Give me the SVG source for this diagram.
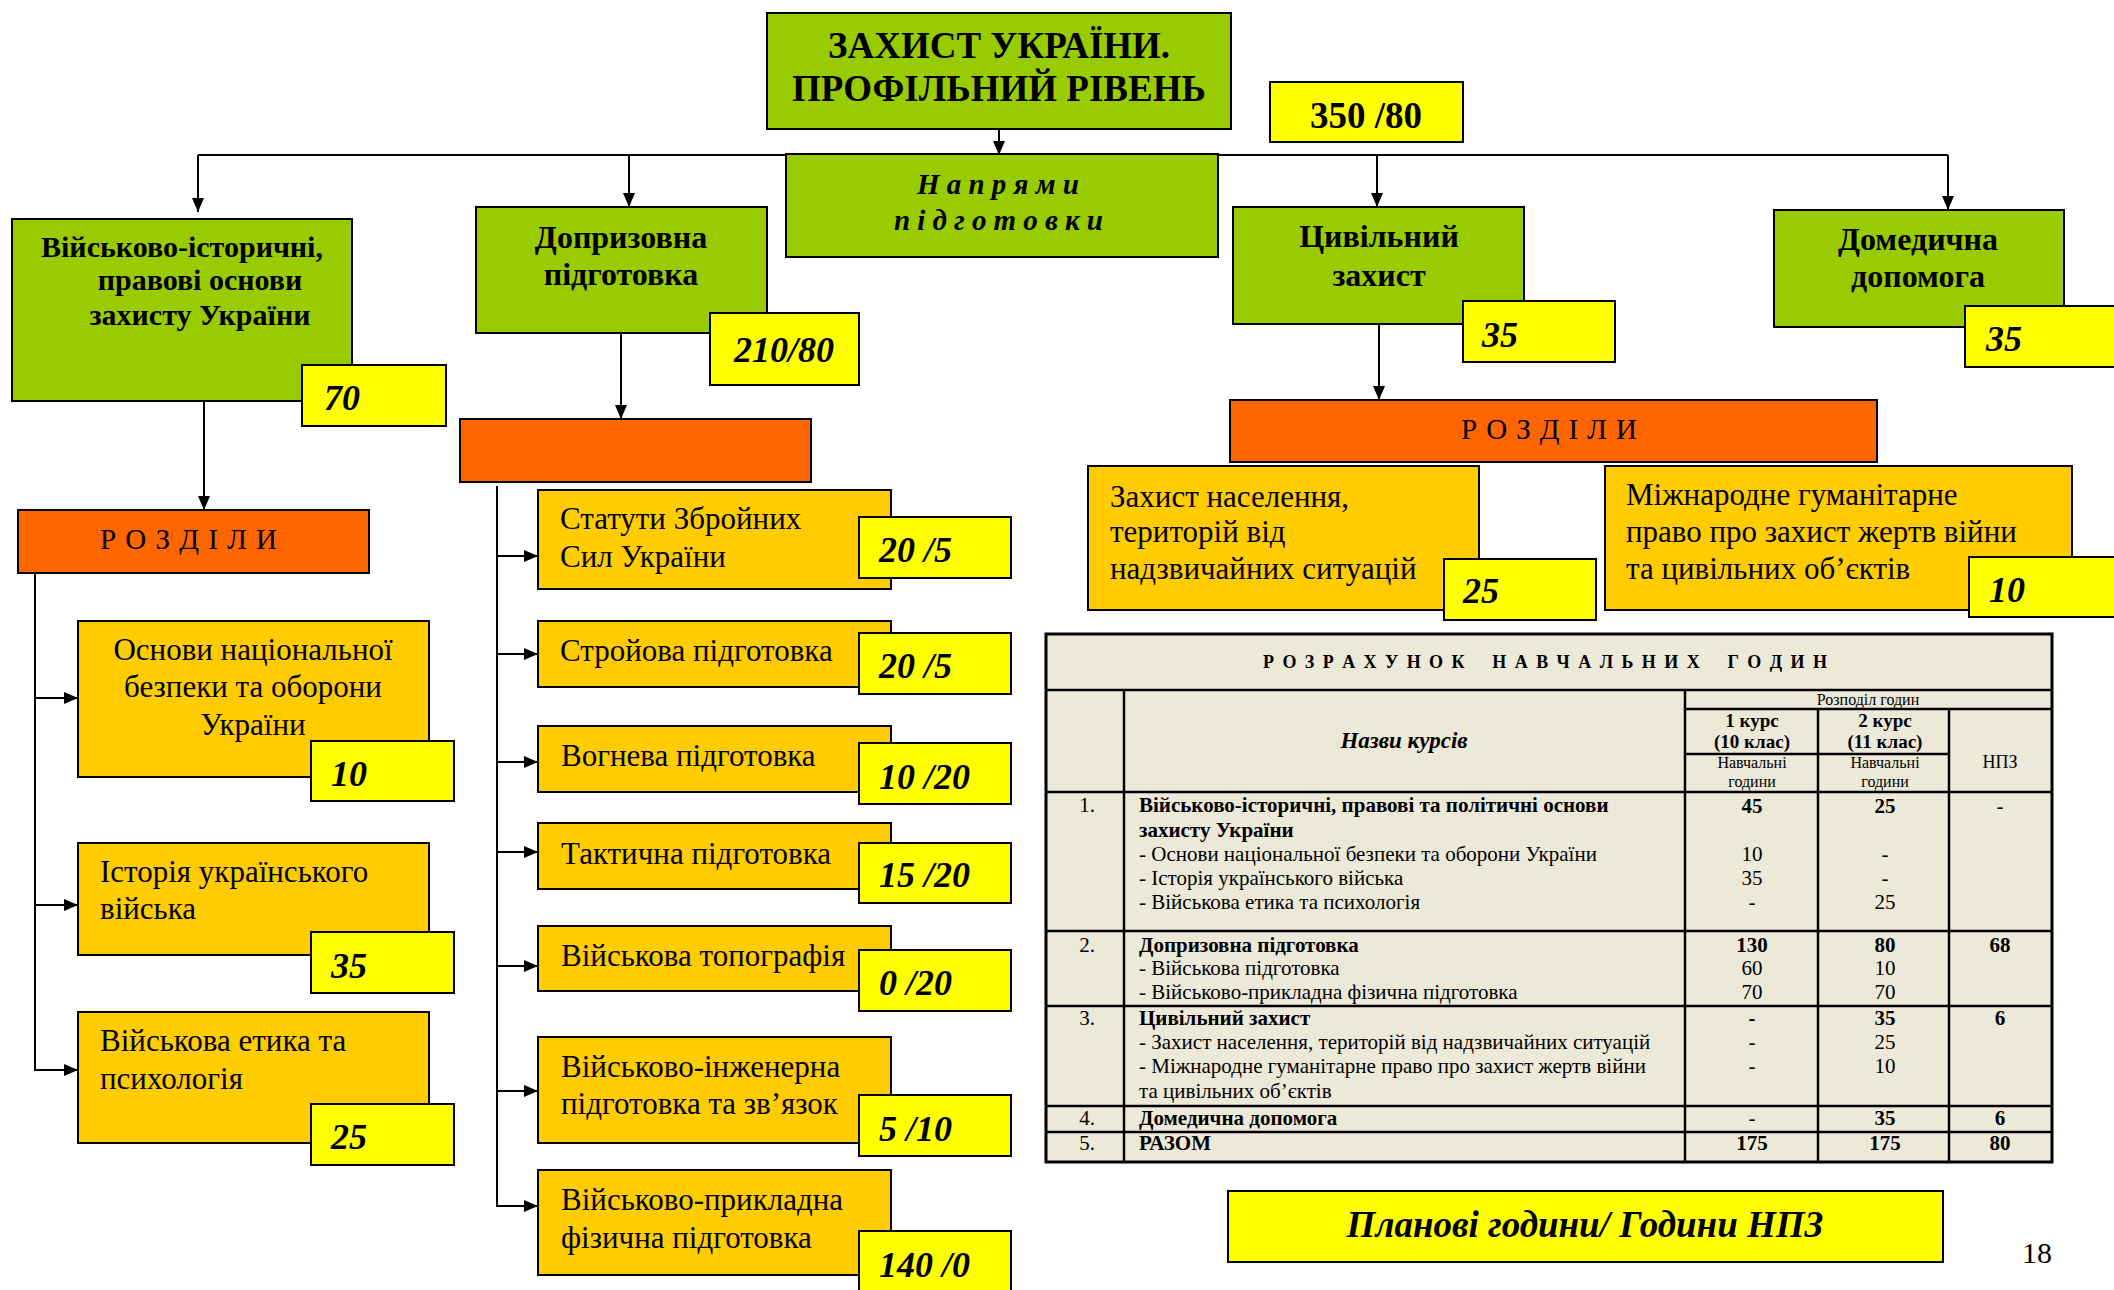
<svg xmlns="http://www.w3.org/2000/svg" width="2114" height="1290" viewBox="0 0 2114 1290">
<style>
text{font-family:"Liberation Serif","Times New Roman",serif;fill:#000}
.g{fill:#99CC00;stroke:#000;stroke-width:2}
.y{fill:#FFFF00;stroke:#000;stroke-width:2}
.o{fill:#FFCC00;stroke:#000;stroke-width:2}
.r{fill:#FF6600;stroke:#000;stroke-width:2}
.c{stroke:#000;stroke-width:2;fill:none}
.ca{stroke:#000;stroke-width:2;fill:none;marker-end:url(#ah)}
.hb{font-weight:bold;font-size:32px;text-anchor:middle}
.hs{font-size:30px}
.num{font-weight:bold;font-style:italic;font-size:36px}
.bx{font-size:31px}
.tl{stroke:#000;stroke-width:2.5;fill:none}
.tt{font-size:21px}
.tb{font-size:21px;font-weight:bold}
.tc{text-anchor:middle}
</style>
<defs>
<marker id="ah" markerUnits="userSpaceOnUse" markerWidth="14" markerHeight="12" refX="14" refY="6" orient="auto">
<path d="M0,0 L14,6 L0,12 z" fill="#000"/>
</marker>
</defs>

<g id="connectors">
<line class="c" x1="198" y1="155" x2="1948" y2="155"/>
<line class="ca" x1="999" y1="129" x2="999" y2="155"/>
<line class="ca" x1="198" y1="155" x2="198" y2="212"/>
<line class="ca" x1="629" y1="155" x2="629" y2="207"/>
<line class="ca" x1="1377" y1="155" x2="1377" y2="207"/>
<line class="ca" x1="1948" y1="155" x2="1948" y2="210"/>
<line class="ca" x1="204" y1="401" x2="204" y2="510"/>
<line class="ca" x1="621" y1="333" x2="621" y2="419"/>
<line class="ca" x1="1379" y1="324" x2="1379" y2="400"/>
<line class="c" x1="35" y1="573" x2="35" y2="1070"/>
<line class="ca" x1="35" y1="698" x2="78" y2="698"/>
<line class="ca" x1="35" y1="905" x2="78" y2="905"/>
<line class="ca" x1="34" y1="1070" x2="78" y2="1070"/>
<line class="c" x1="497" y1="486" x2="497" y2="1207"/>
<line class="ca" x1="497" y1="556" x2="538" y2="556"/>
<line class="ca" x1="497" y1="654" x2="538" y2="654"/>
<line class="ca" x1="497" y1="762" x2="538" y2="762"/>
<line class="ca" x1="497" y1="852" x2="538" y2="852"/>
<line class="ca" x1="497" y1="966" x2="538" y2="966"/>
<line class="ca" x1="497" y1="1091" x2="538" y2="1091"/>
<line class="ca" x1="496" y1="1206" x2="538" y2="1206"/>
</g>

<g id="title">
<rect class="g" x="767" y="13" width="464" height="116"/>
<text x="999" y="58" text-anchor="middle" font-size="37" font-weight="bold">ЗАХИСТ УКРАЇНИ.</text>
<text x="999" y="101" text-anchor="middle" font-size="37" font-weight="bold">ПРОФІЛЬНИЙ РІВЕНЬ</text>
</g>

<g id="total">
<rect class="y" x="1270" y="82" width="193" height="60"/>
<text x="1366" y="128" text-anchor="middle" font-size="37" font-weight="bold">350 /80</text>
</g>

<g id="napriamy">
<rect class="g" x="786" y="154" width="432" height="103"/>
<text x="917" y="194" font-size="29" font-weight="bold" font-style="italic" textLength="162" lengthAdjust="spacing">Н а п р я м и</text>
<text x="894" y="230" font-size="29" font-weight="bold" font-style="italic" textLength="209" lengthAdjust="spacing">п і д г о т о в к и</text>
</g>

<g id="viiskovo-istorychni">
<rect class="g" x="12" y="219" width="340" height="182"/>
<text class="hb hs" x="182" y="257">Військово-історичні,</text>
<text class="hb hs" x="200" y="290">правові основи</text>
<text class="hb hs" x="200" y="325">захисту України</text>
<rect class="y" x="302" y="365" width="144" height="61"/>
<text class="num" x="324" y="410">70</text>
</g>

<g id="dopryzovna">
<rect class="g" x="476" y="207" width="291" height="126"/>
<text class="hb" x="621" y="248">Допризовна</text>
<text class="hb" x="621" y="285">підготовка</text>
<rect class="y" x="710" y="313" width="149" height="72"/>
<text class="num" x="734" y="362">210/80</text>
</g>

<g id="tsyvilnyi">
<rect class="g" x="1233" y="207" width="291" height="117"/>
<text class="hb" x="1379" y="247">Цивільний</text>
<text class="hb" x="1379" y="286">захист</text>
<rect class="y" x="1463" y="301" width="152" height="61"/>
<text class="num" x="1482" y="347">35</text>
</g>

<g id="domedychna">
<rect class="g" x="1774" y="210" width="290" height="117"/>
<text class="hb" x="1918" y="250">Домедична</text>
<text class="hb" x="1918" y="287">допомога</text>
<rect class="y" x="1965" y="306" width="160" height="61"/>
<text class="num" x="1986" y="351">35</text>
</g>

<g id="rozdily-mid">
<rect class="r" x="460" y="419" width="351" height="63"/>
</g>

<g id="rozdily-left">
<rect class="r" x="18" y="510" width="351" height="63"/>
<text x="100" y="549" font-size="29" textLength="177" lengthAdjust="spacing">Р О З Д І Л И</text>
</g>

<g id="rozdily-right">
<rect class="r" x="1230" y="400" width="647" height="62"/>
<text x="1461" y="439" font-size="29" textLength="176" lengthAdjust="spacing">Р О З Д І Л И</text>
</g>

<g id="osnovy">
<rect class="o" x="78" y="621" width="351" height="156"/>
<text class="bx" x="253" y="660" text-anchor="middle">Основи національної</text>
<text class="bx" x="253" y="697" text-anchor="middle">безпеки та оборони</text>
<text class="bx" x="253" y="735" text-anchor="middle">України</text>
<rect class="y" x="311" y="741" width="143" height="60"/>
<text class="num" x="331" y="786">10</text>
</g>

<g id="istoriia">
<rect class="o" x="78" y="843" width="351" height="112"/>
<text class="bx" x="100" y="882">Історія українського</text>
<text class="bx" x="100" y="919">війська</text>
<rect class="y" x="311" y="932" width="143" height="61"/>
<text class="num" x="331" y="978">35</text>
</g>

<g id="etyka">
<rect class="o" x="78" y="1012" width="351" height="131"/>
<text class="bx" x="100" y="1051">Військова етика та</text>
<text class="bx" x="100" y="1089">психологія</text>
<rect class="y" x="311" y="1104" width="143" height="61"/>
<text class="num" x="331" y="1149">25</text>
</g>

<g id="statuty">
<rect class="o" x="538" y="490" width="353" height="99"/>
<text class="bx" x="560" y="529">Статути Збройних</text>
<text class="bx" x="560" y="567">Сил України</text>
<rect class="y" x="859" y="517" width="152" height="61"/>
<text class="num" x="879" y="562">20 /5</text>
</g>

<g id="stroiova">
<rect class="o" x="538" y="621" width="353" height="66"/>
<text class="bx" x="560" y="661">Стройова підготовка</text>
<rect class="y" x="859" y="633" width="152" height="61"/>
<text class="num" x="879" y="678">20 /5</text>
</g>

<g id="vohneva">
<rect class="o" x="538" y="726" width="353" height="66"/>
<text class="bx" x="561" y="766">Вогнева підготовка</text>
<rect class="y" x="859" y="743" width="152" height="61"/>
<text class="num" x="879" y="789">10 /20</text>
</g>

<g id="taktychna">
<rect class="o" x="538" y="823" width="353" height="66"/>
<text class="bx" x="561" y="864">Тактична підготовка</text>
<rect class="y" x="859" y="843" width="152" height="60"/>
<text class="num" x="879" y="887">15 /20</text>
</g>

<g id="topohrafiia">
<rect class="o" x="538" y="926" width="353" height="65"/>
<text class="bx" x="561" y="966">Військова топографія</text>
<rect class="y" x="859" y="950" width="152" height="61"/>
<text class="num" x="879" y="995">0 /20</text>
</g>

<g id="inzhenerna">
<rect class="o" x="538" y="1037" width="353" height="106"/>
<text class="bx" x="561" y="1077">Військово-інженерна</text>
<text class="bx" x="561" y="1114">підготовка та зв’язок</text>
<rect class="y" x="859" y="1095" width="152" height="61"/>
<text class="num" x="879" y="1141">5 /10</text>
</g>

<g id="prykladna">
<rect class="o" x="538" y="1170" width="353" height="105"/>
<text class="bx" x="561" y="1210">Військово-прикладна</text>
<text class="bx" x="561" y="1248">фізична підготовка</text>
<rect class="y" x="859" y="1231" width="152" height="64"/>
<text class="num" x="879" y="1277">140 /0</text>
</g>

<g id="zakhyst-naselennia">
<rect class="o" x="1088" y="466" width="391" height="144"/>
<text class="bx" x="1110" y="507">Захист населення,</text>
<text class="bx" x="1110" y="542">територій від</text>
<text class="bx" x="1110" y="579">надзвичайних ситуацій</text>
<rect class="y" x="1444" y="559" width="152" height="61"/>
<text class="num" x="1463" y="603">25</text>
</g>

<g id="mizhnarodne">
<rect class="o" x="1605" y="466" width="467" height="144"/>
<text class="bx" x="1626" y="505">Міжнародне гуманітарне</text>
<text class="bx" x="1626" y="542">право про захист жертв війни</text>
<text class="bx" x="1626" y="579">та цивільних об’єктів</text>
<rect class="y" x="1969" y="557" width="155" height="60"/>
<text class="num" x="1989" y="602">10</text>
</g>

<g id="table">
<rect x="1046" y="634" width="1006" height="528" fill="#ECE9D8" stroke="#000" stroke-width="3"/>
<line class="tl" x1="1046" y1="690" x2="2052" y2="690"/>
<line class="tl" x1="1124" y1="690" x2="1124" y2="1162"/>
<line class="tl" x1="1685" y1="690" x2="1685" y2="1162"/>
<line class="tl" x1="1685" y1="709" x2="2052" y2="709"/>
<line class="tl" x1="1818" y1="709" x2="1818" y2="1162"/>
<line class="tl" x1="1949" y1="709" x2="1949" y2="1162"/>
<line class="tl" x1="1685" y1="754" x2="1949" y2="754"/>
<line class="tl" x1="1046" y1="792" x2="2052" y2="792"/>
<line class="tl" x1="1046" y1="931" x2="2052" y2="931"/>
<line class="tl" x1="1046" y1="1006" x2="2052" y2="1006"/>
<line class="tl" x1="1046" y1="1106" x2="2052" y2="1106"/>
<line class="tl" x1="1046" y1="1132" x2="2052" y2="1132"/>

<text x="1263" y="668" font-size="18" font-weight="bold" textLength="564" lengthAdjust="spacing" xml:space="preserve">Р О З Р А Х У Н О К    Н А В Ч А Л Ь Н И Х    Г О Д И Н</text>
<text x="1404" y="748" class="tc" font-size="23" font-weight="bold" font-style="italic">Назви курсів</text>
<text x="1868" y="705" class="tc" font-size="16">Розподіл годин</text>
<text x="1752" y="727" class="tc" font-size="19" font-weight="bold">1 курс</text>
<text x="1752" y="748" class="tc" font-size="19" font-weight="bold">(10 клас)</text>
<text x="1885" y="727" class="tc" font-size="19" font-weight="bold">2 курс</text>
<text x="1885" y="748" class="tc" font-size="19" font-weight="bold">(11 клас)</text>
<text x="1752" y="768" class="tc" font-size="16">Навчальні</text>
<text x="1752" y="787" class="tc" font-size="16">години</text>
<text x="1885" y="768" class="tc" font-size="16">Навчальні</text>
<text x="1885" y="787" class="tc" font-size="16">години</text>
<text x="2000" y="768" class="tc" font-size="18">НПЗ</text>

<text class="tt tc" x="1087" y="812">1.</text>
<text class="tb" x="1139" y="812">Військово-історичні, правові та політичні основи</text>
<text class="tb" x="1139" y="837">захисту України</text>
<text class="tt" x="1139" y="861">- Основи національної безпеки та оборони України</text>
<text class="tt" x="1139" y="885">- Історія українського війська</text>
<text class="tt" x="1139" y="909">- Військова етика та психологія</text>
<text class="tb tc" x="1752" y="813">45</text>
<text class="tb tc" x="1885" y="813">25</text>
<text class="tt tc" x="2000" y="813">-</text>
<text class="tt tc" x="1752" y="861">10</text>
<text class="tt tc" x="1885" y="861">-</text>
<text class="tt tc" x="1752" y="885">35</text>
<text class="tt tc" x="1885" y="885">-</text>
<text class="tt tc" x="1752" y="909">-</text>
<text class="tt tc" x="1885" y="909">25</text>

<text class="tt tc" x="1087" y="952">2.</text>
<text class="tb" x="1139" y="952">Допризовна підготовка</text>
<text class="tt" x="1139" y="975">- Військова підготовка</text>
<text class="tt" x="1139" y="999">- Військово-прикладна фізична підготовка</text>
<text class="tb tc" x="1752" y="952">130</text>
<text class="tb tc" x="1885" y="952">80</text>
<text class="tb tc" x="2000" y="952">68</text>
<text class="tt tc" x="1752" y="975">60</text>
<text class="tt tc" x="1885" y="975">10</text>
<text class="tt tc" x="1752" y="999">70</text>
<text class="tt tc" x="1885" y="999">70</text>

<text class="tt tc" x="1087" y="1025">3.</text>
<text class="tb" x="1139" y="1025">Цивільний захист</text>
<text class="tt" x="1139" y="1049">- Захист населення, територій від надзвичайних ситуацій</text>
<text class="tt" x="1139" y="1073">- Міжнародне гуманітарне право про захист жертв війни</text>
<text class="tt" x="1139" y="1098">та цивільних об’єктів</text>
<text class="tb tc" x="1752" y="1025">-</text>
<text class="tb tc" x="1885" y="1025">35</text>
<text class="tb tc" x="2000" y="1025">6</text>
<text class="tt tc" x="1752" y="1049">-</text>
<text class="tt tc" x="1885" y="1049">25</text>
<text class="tt tc" x="1752" y="1073">-</text>
<text class="tt tc" x="1885" y="1073">10</text>

<text class="tt tc" x="1087" y="1125">4.</text>
<text class="tb" x="1139" y="1125">Домедична допомога</text>
<text class="tt tc" x="1752" y="1125">-</text>
<text class="tb tc" x="1885" y="1125">35</text>
<text class="tb tc" x="2000" y="1125">6</text>

<text class="tt tc" x="1087" y="1150">5.</text>
<text class="tb" x="1139" y="1150">РАЗОМ</text>
<text class="tb tc" x="1752" y="1150">175</text>
<text class="tb tc" x="1885" y="1150">175</text>
<text class="tb tc" x="2000" y="1150">80</text>
</g>

<g id="legend">
<rect class="y" x="1228" y="1191" width="715" height="71"/>
<text x="1585" y="1237" text-anchor="middle" font-size="37" font-weight="bold" font-style="italic">Планові години/ Години НПЗ</text>
</g>

<text x="2037" y="1263" text-anchor="middle" font-size="30">18</text>
</svg>
